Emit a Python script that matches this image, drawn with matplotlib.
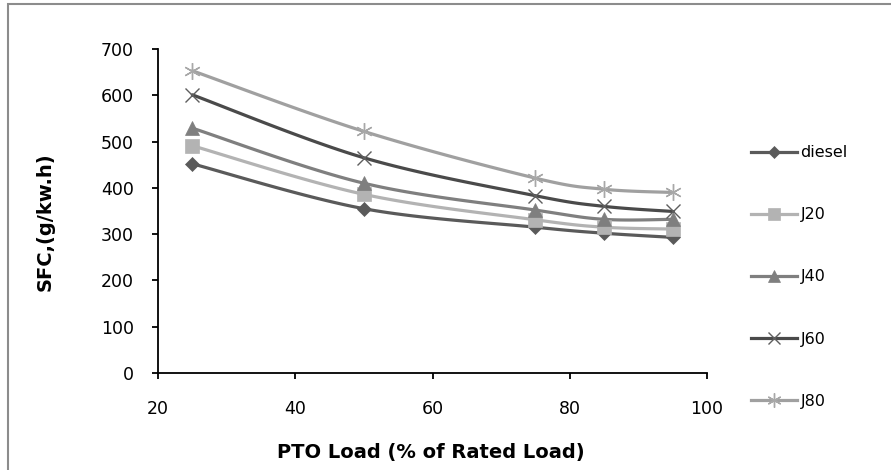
import numpy as np
import matplotlib.pyplot as plt
from matplotlib.patches import Rectangle

plt.rcParams['font.family'] = ['DejaVu Sans']

# data
load = [25, 50, 75, 85, 95]
diesel = [452, 355, 315, 302, 293]
j20 = [491, 386, 331, 315, 311]
j40 = [529, 410, 352, 332, 332]
j60 = [601, 465, 383, 360, 349]
j80 = [653, 522, 421, 397, 390]

series = [
    ('diesel', diesel, '#5a5a5a', 'D', 7.5, '#5a5a5a'),
    ('J20', j20, '#b3b3b3', 's', 9.5, '#b3b3b3'),
    ('J40', j40, '#7f7f7f', '^', 10, '#7f7f7f'),
    ('J60', j60, '#4a4a4a', 'x', 10, '#5e5e5e'),
    ('J80', j80, '#a0a0a0', (6, 2, 0), 12, '#a8a8a8'),
]


def smooth(x, y, n=30):
    # Excel-style smoothed line (Catmull-Rom bezier), in pixel-like units
    sx, sy = 547 / 80.0, 46.4 / 100.0
    P = np.column_stack([np.asarray(x) * sx, np.asarray(y) * sy])
    out = []
    t = np.linspace(0, 1, n)[:, None]
    for i in range(len(P) - 1):
        p0 = P[max(i - 1, 0)]
        p1 = P[i]
        p2 = P[i + 1]
        p3 = P[min(i + 2, len(P) - 1)]
        c1 = p1 + (p2 - p0) / 6.0
        c2 = p2 - (p3 - p1) / 6.0
        seg = ((1 - t) ** 3) * p1 + 3 * ((1 - t) ** 2) * t * c1 + 3 * (1 - t) * t ** 2 * c2 + t ** 3 * p2
        out.append(seg)
    out = np.vstack(out)
    return out[:, 0] / sx, out[:, 1] / sy


fig = plt.figure(figsize=(8.91, 4.70), dpi=100)
ax = fig.add_axes([158 / 891, 1 - 373 / 470, (707 - 158) / 891, (373 - 49) / 470])

for name, vals, col, mk, ms, mcol in series:
    xs, ys = smooth(load, vals)
    ax.plot(xs, ys, color=col, lw=2.3, solid_capstyle='round', zorder=2)
    ax.plot(load, vals, ls='none', marker=mk, ms=ms, color=mcol,
            mec=mcol, mew=1.0 if mk in ('x', (6, 2, 0)) else 0.5, zorder=3)

# legend handles
handles = []
for name, vals, col, mk, ms, mcol in series:
    h, = ax.plot([], [], color=col, lw=2.3, marker=mk, ms=ms * 0.85, mfc=mcol, mec=mcol,
                 mew=1.0 if mk in ('x', (6, 2, 0)) else 0.5, label=name)
    handles.append(h)
fig.legend(handles=handles, loc='center left', bbox_to_anchor=(751 / 891, 1 - 277 / 470),
           frameon=False, fontsize=11.5, handlelength=2.9, handletextpad=0.2,
           labelspacing=2.95, borderpad=0, borderaxespad=0, numpoints=1)

ax.set_xlim(20, 100)
ax.set_ylim(0, 700)
ax.set_xticks([20, 40, 60, 80, 100])
ax.set_yticks(range(0, 701, 100))
ax.spines['top'].set_visible(False)
ax.spines['right'].set_visible(False)
for s in ('left', 'bottom'):
    ax.spines[s].set_linewidth(1.3)
ax.tick_params(direction='out', length=4.5, width=1.3, labelsize=12.5, colors='black')
ax.tick_params(axis='y', pad=13)
ax.tick_params(axis='x', pad=15)

ax.set_ylabel('SFC,(g/kw.h)', fontsize=14, fontweight='bold', va='center', ha='center')
ax.yaxis.set_label_coords(-0.205, 0.466)
ax.set_xlabel('PTO Load (% of Rated Load)', fontsize=14, fontweight='bold', va='top')
ax.xaxis.set_label_coords(0.497, -0.215)

# chart area border
fig.patches.append(Rectangle((8 / 891, -0.05), 1.2, 1 - 4 / 470 + 0.05, transform=fig.transFigure,
                             fill=False, edgecolor='#8c8c8c', lw=1.5))

fig.savefig('out.png', dpi=100)
